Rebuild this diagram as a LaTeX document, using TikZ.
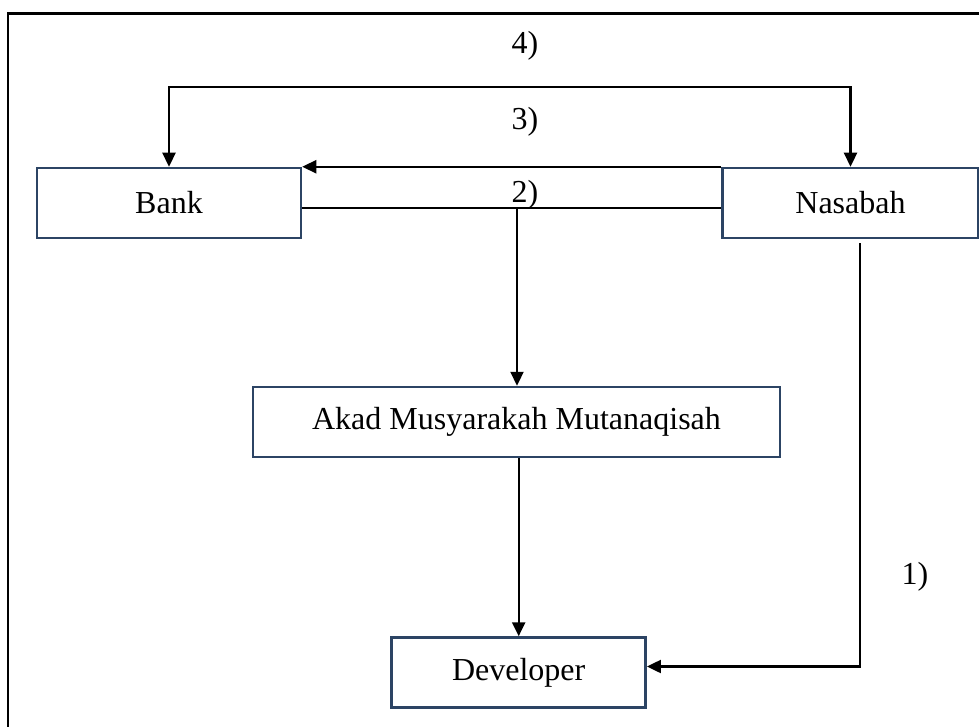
\documentclass[tikz,border=0pt]{standalone}
\usepackage{fontspec}
\setmainfont{Liberation Serif}
\usetikzlibrary{arrows.meta,calc}
\definecolor{boxc}{RGB}{44,68,100}
\begin{document}
\begin{tikzpicture}[x=1pt,y=-1pt,
  box/.style={draw=boxc, line width=2.5pt, inner sep=0pt, font=\fontsize{32}{38}\selectfont, minimum height=70pt},
  lbl/.style={inner sep=0pt, font=\fontsize{32}{38}\selectfont},
  line/.style={line width=2.3pt, draw=black},
  conn/.style={line width=2.3pt, -{Triangle[length=14pt,width=13pt]}},
  conn2/.style={line width=2.3pt, {Triangle[length=14pt,width=13pt]}-{Triangle[length=14pt,width=13pt]}}]
\clip (0,0) rectangle (979,727);
\useasboundingbox (0,0) rectangle (979,727);
\fill[white] (0,0) rectangle (979,727);
% outer frame
\draw[line width=2.8pt] (8,760) -- (8,13.7) -- (1000,13.7);
% boxes
\node[box, minimum width=264pt] (bank) at (169,203) {Bank};
\node[box, minimum width=256pt] (nasabah) at (850.5,203) {Nasabah};
\node[box, minimum width=527pt] (akad) at (516.5,422) {Akad Musyarakah Mutanaqisah};
\node[box, minimum width=254pt] (dev) at (518.7,672.5) {Developer};
% labels
\node[lbl] (l4) at (525,46) {4)};
\node[lbl] (l3) at (525,122) {3)};
\node[lbl] (l2) at (525,195) {2)};
\node[lbl] (l1) at (915,577) {1)};
% 4) bracket
\coordinate (tl) at (169,87);
\draw[conn2] (bank.north) -- (tl) -| (nasabah.north);
% 3) arrow along top edges
\draw[conn] (nasabah.north west) -- (bank.north east);
% 2) line and arrow to akad
\draw[line] ([yshift=-5pt]bank.east) -- ([yshift=-5pt]nasabah.west);
\coordinate (j) at (517,208);
\draw[conn] (j) -- (akad.north -| j);
% akad to developer
\draw[conn] (akad.south -| dev.north) -- (dev.north);
% 1) nasabah to developer
\draw[conn] ([xshift=9.5pt,yshift=-4pt]nasabah.south) |- ([yshift=6pt]dev.east);
\end{tikzpicture}
\end{document}
